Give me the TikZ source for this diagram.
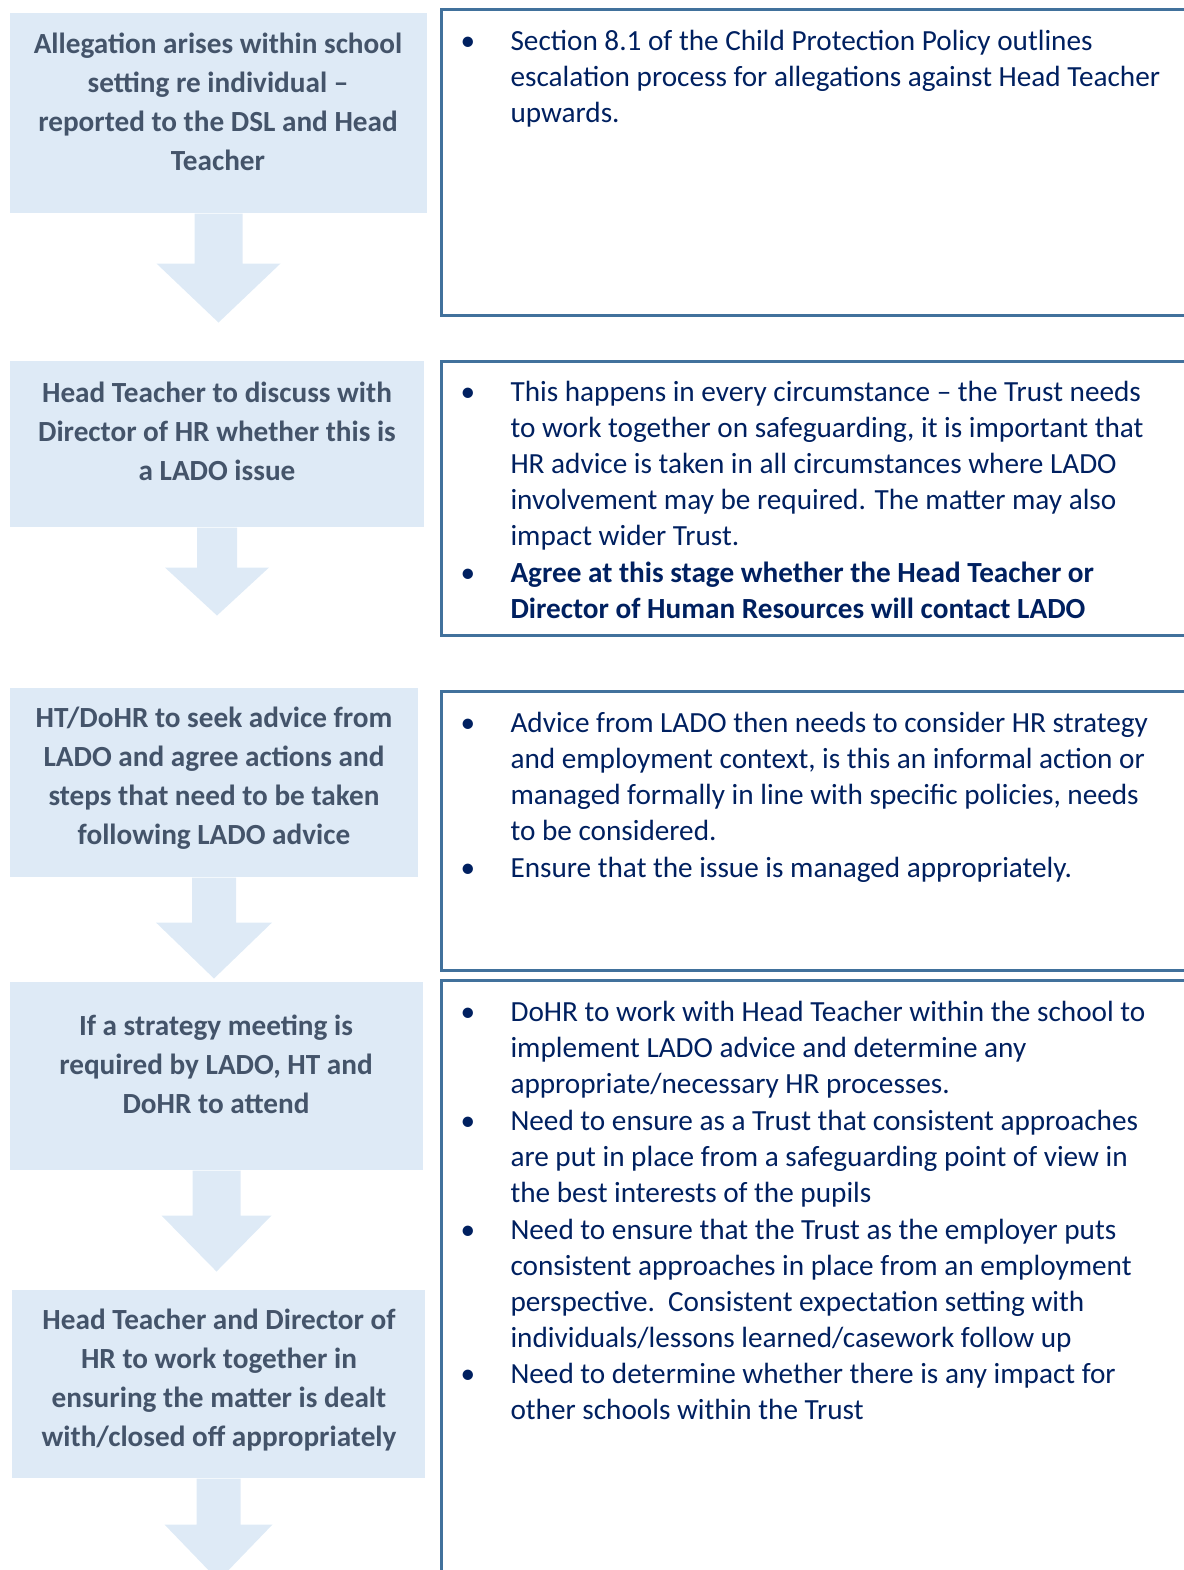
\documentclass[tikz,border=0pt]{standalone}
\usepackage{fontspec}
\setmainfont{Carlito}
\usetikzlibrary{positioning,calc}
\definecolor{boxblue}{HTML}{DEEAF6}
\definecolor{slatetext}{HTML}{44546A}
\definecolor{navytext}{HTML}{002060}
\definecolor{edgeblue}{HTML}{41719C}
\def\pxu{0.01323cm}
% block arrow under a step: node, shaft half width, shaft length, head half width, head length
\newcommand{\flowarrow}[5]{%
  \fill[arrowfill] (#1.south) ++(-#2,0) -- ++(0,#3) -- ++({#2-#4},0) -- ++(#4,#5)
    -- ++(#4,-#5) -- ++({#2-#4},0) -- ++(0,-#3) -- cycle;}

\begin{document}
\begin{tikzpicture}[x=0.01323cm,y=-0.01323cm,
    stepbox/.style 2 args={fill=boxblue,inner sep=0,minimum width=#1*\pxu,minimum height=#2*\pxu},
    steptext/.style={anchor=base,align=center,inner sep=0,text=slatetext,
                     font=\fontsize{11}{14.57}\selectfont\bfseries},
    arrowfill/.style={fill=boxblue},
    notebox/.style={draw=edgeblue,line width=1.13pt},
    notetext/.style={anchor=base west,align=left,inner sep=0,text=navytext,
                     font=\fontsize{11}{13.55}\selectfont},
    dot/.style={anchor=base,inner sep=0,text=navytext,font=\fontsize{11}{13.55}\selectfont}]

  \clip (0,0) rectangle (1184,1570);

  % left column: steps (texts sit on the baseline of their last line)
  \node[stepbox={417}{200}] (step1) at (218.5,113) {};
  \node[stepbox={414}{166}] (step2) at (217,444) {};
  \node[stepbox={408}{189}] (step3) at (214,782.5) {};
  \node[stepbox={413}{188}] (step4) at (216.5,1076) {};
  \node[stepbox={413}{188}] (step5) at (218.5,1384) {};

  \node[steptext] (lbl1) at (218,170) {Allegation arises within school\\setting re individual --\\reported to the DSL and Head\\Teacher};
  \node[steptext] (lbl2) at (217,480) {Head Teacher to discuss with\\Director of HR whether this is\\a LADO issue};
  \node[steptext] (lbl3) at (214,844) {HT/DoHR to seek advice from\\LADO and agree actions and\\steps that need to be taken\\following LADO advice};
  \node[steptext] (lbl4) at (216,1113) {If a strategy meeting is\\required by LADO, HT and\\DoHR to attend};
  \node[steptext] (lbl5) at (219,1446) {Head Teacher and Director of\\HR to work together in\\ensuring the matter is dealt\\with/closed off appropriately};

  \flowarrow{step1}{24}{50}{62}{59}
  \flowarrow{step2}{20}{40}{52}{48}
  \flowarrow{step3}{22}{45}{58}{56}
  \flowarrow{step4}{24}{45}{55}{56}
  \flowarrow{step5}{22}{46}{54}{56}

  % right column: notes
  \draw[notebox] (441,9) rectangle (1200,315);
  \draw[notebox] (441,361) rectangle (1200,635);
  \draw[notebox] (441,691) rectangle (1200,970);
  \draw[notebox] (441,980) rectangle (1200,1600);

  \node[dot] (d1) at (468,50) {\textbullet};
  \node[notetext] (n1) at (510,122) {Section 8.1 of the Child Protection Policy outlines\\escalation process for allegations against Head Teacher\\upwards.};

  \node[dot] (d2a) at (468,401) {\textbullet};
  \node[notetext] (n2a) at (510,545) {This happens in every circumstance -- the Trust needs\\to work together on safeguarding, it is important that\\HR advice is taken in all circumstances where LADO\\involvement may be required. The matter may also\\impact wider Trust.};
  \node[dot] (d2b) at (468,582) {\textbullet};
  \node[notetext,font=\fontsize{11}{13.55}\selectfont\bfseries] (n2b) at (510,618) {Agree at this stage whether the Head Teacher or\\Director of Human Resources will contact LADO};

  \node[dot] (d3a) at (468,732) {\textbullet};
  \node[notetext] (n3a) at (510,840) {Advice from LADO then needs to consider HR strategy\\and employment context, is this an informal action or\\managed formally in line with specific policies, needs\\to be considered.};
  \node[dot] (d3b) at (468,877) {\textbullet};
  \node[notetext] (n3b) at (510,877) {Ensure that the issue is managed appropriately.};

  \node[dot] (d4a) at (468,1021) {\textbullet};
  \node[notetext] (n4a) at (510,1093) {DoHR to work with Head Teacher within the school to\\implement LADO advice and determine any\\appropriate/necessary HR processes.};
  \node[dot] (d4b) at (468,1130) {\textbullet};
  \node[notetext] (n4b) at (510,1202) {Need to ensure as a Trust that consistent approaches\\are put in place from a safeguarding point of view in\\the best interests of the pupils};
  \node[dot] (d4c) at (468,1239) {\textbullet};
  \node[notetext] (n4c) at (510,1347) {Need to ensure that the Trust as the employer puts\\consistent approaches in place from an employment\\perspective.\ \ Consistent expectation setting with\\individuals/lessons learned/casework follow up};
  \node[dot] (d4d) at (468,1383) {\textbullet};
  \node[notetext] (n4d) at (510,1419) {Need to determine whether there is any impact for\\other schools within the Trust};

\end{tikzpicture}
\end{document}
